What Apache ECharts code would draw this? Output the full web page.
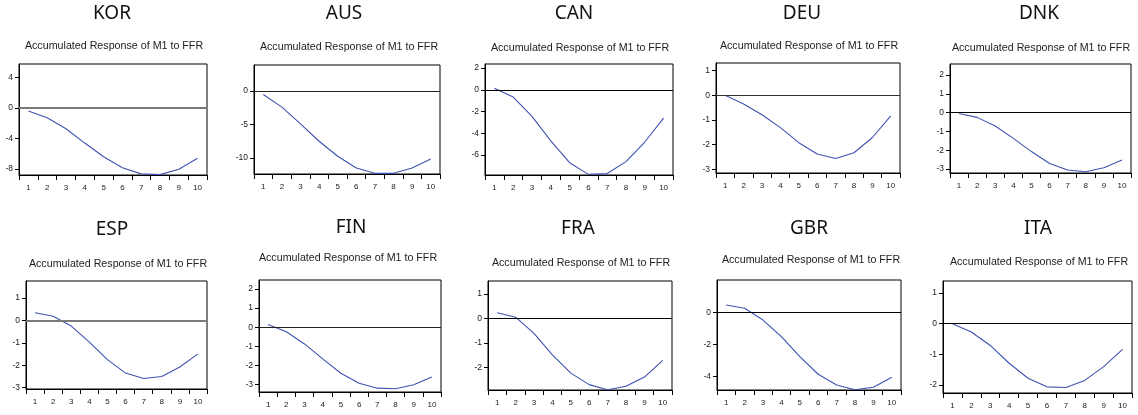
<!DOCTYPE html>
<html>
<head>
<meta charset="utf-8">
<script src="https://cdn.jsdelivr.net/npm/echarts@6/dist/echarts.min.js"></script>
<style>
  html, body { margin: 0; padding: 0; background: #fff; }
  #chart { width: 1138px; height: 415px; }
</style>
</head>
<body>
<div id="chart"></div>
<script>
// Horizon (periods after the shock)
const periods = ['1', '2', '3', '4', '5', '6', '7', '8', '9', '10'];
const countries = ['KOR', 'AUS', 'CAN', 'DEU', 'DNK', 'ESP', 'FIN', 'FRA', 'GBR', 'ITA'];
const subtitle = 'Accumulated Response of M1 to FFR';

// Accumulated responses of M1 to an FFR shock, by country
const kor = [-0.39, -1.27, -2.72, -4.6, -6.4, -7.85, -8.65, -8.75, -8.05, -6.6];
const aus = [-0.5, -2.4, -4.9, -7.5, -9.75, -11.5, -12.3, -12.3, -11.5, -10.15];
const can = [0.15, -0.67, -2.44, -4.7, -6.7, -7.77, -7.7, -6.6, -4.8, -2.6];
const deu = [0.0, -0.35, -0.79, -1.31, -1.92, -2.38, -2.56, -2.33, -1.71, -0.83];
const dnk = [-0.04, -0.25, -0.71, -1.37, -2.07, -2.7, -3.05, -3.14, -2.93, -2.52];
const esp = [0.34, 0.19, -0.25, -0.97, -1.75, -2.35, -2.59, -2.5, -2.08, -1.49];
const fin = [0.14, -0.23, -0.87, -1.65, -2.4, -2.92, -3.18, -3.21, -3.0, -2.6];
const fra = [0.23, 0.05, -0.61, -1.49, -2.24, -2.71, -2.92, -2.78, -2.4, -1.72];
const gbr = [0.46, 0.25, -0.48, -1.51, -2.76, -3.85, -4.52, -4.81, -4.66, -4.04];
const ita = [0.0, -0.27, -0.71, -1.29, -1.78, -2.06, -2.08, -1.85, -1.4, -0.84];

// Value-axis ticks and bounds for each panel
const yTicks = [
  [-8, -4, 0, 4],
  [-10, -5, 0],
  [-6, -4, -2, 0, 2],
  [-3, -2, -1, 0, 1],
  [-3, -2, -1, 0, 1, 2],
  [-3, -2, -1, 0, 1],
  [-3, -2, -1, 0, 1, 2],
  [-2, -1, 0, 1],
  [-4, -2, 0],
  [-2, -1, 0, 1]
];
const yMin = [-8.8, -12.4, -7.83, -3.15, -3.21, -3.06, -3.38, -2.93, -4.83, -2.26];
const yMax = [5.8, 3.9, 2.37, 1.31, 2.59, 1.76, 2.47, 1.53, 2.01, 1.39];

const responses = [kor, aus, can, deu, dnk, esp, fin, fra, gbr, ita];

// Panel layout: plot box [left, top, width, height], title centre, subtitle centre
const layout = [
  { box: [19, 64, 188, 111],  title: [112, 14],  sub: [114, 46] },
  { box: [254, 65, 186, 109], title: [344, 14],  sub: [349, 47] },
  { box: [485, 64, 188, 111], title: [574, 14],  sub: [580, 48] },
  { box: [716, 63, 184, 110], title: [802, 14],  sub: [809, 46] },
  { box: [950, 64, 181, 109], title: [1039, 14], sub: [1041, 48] },
  { box: [26, 281, 181, 108], title: [112, 230], sub: [118, 264] },
  { box: [259, 280, 182, 112], title: [351, 228], sub: [348, 258] },
  { box: [488, 281, 184, 109], title: [578, 229], sub: [581, 263] },
  { box: [717, 280, 184, 110], title: [809, 229], sub: [811, 260] },
  { box: [943, 281, 189, 112], title: [1038, 229], sub: [1039, 262] }
];
const zeroLineStyle = [
  { color: '#7a7a7a', width: 2 },
  { color: '#222', width: 1 },
  { color: '#000', width: 1 },
  { color: '#333', width: 1 },
  { color: '#000', width: 1 },
  { color: '#7a7a7a', width: 2 },
  { color: '#222', width: 1 },
  { color: '#000', width: 1 },
  { color: '#000', width: 1 },
  { color: '#000', width: 1 }
];

const grid = [], xAxis = [], yAxis = [], series = [], graphic = [];

countries.forEach((name, i) => {
  const L = layout[i];
  grid.push({
    left: L.box[0], top: L.box[1], width: L.box[2], height: L.box[3],
    show: true, borderColor: '#000', borderWidth: 1, backgroundColor: '#fff'
  });
  xAxis.push({
    type: 'category', gridIndex: i, data: periods, boundaryGap: true, position: 'bottom',
    axisLine: { show: true, onZero: false, lineStyle: { color: '#000', width: 1 } },
    axisTick: { show: true, interval: 0, length: 5, lineStyle: { color: '#000' } },
    axisLabel: { interval: 0, fontSize: 8, color: '#222', margin: 9, fontFamily: 'Liberation Sans' },
    splitLine: { show: false }
  });
  yAxis.push({
    type: 'value', gridIndex: i, min: yMin[i], max: yMax[i], position: 'left',
    axisLine: { show: true, onZero: false, lineStyle: { color: '#000', width: 1 } },
    axisTick: { show: true, length: 4, customValues: yTicks[i], lineStyle: { color: '#000' } },
    axisLabel: { customValues: yTicks[i], fontSize: 8.5, color: '#222', margin: 6, fontFamily: 'Liberation Sans' },
    splitLine: { show: false }
  });
  series.push({
    type: 'line', xAxisIndex: i, yAxisIndex: i, data: responses[i],
    showSymbol: false, symbol: 'none', animation: false, silent: true,
    lineStyle: { color: '#3f52b0', width: 1.1 },
    markLine: {
      silent: true, animation: false, symbol: ['none', 'none'],
      label: { show: false },
      lineStyle: { type: 'solid', color: zeroLineStyle[i].color, width: zeroLineStyle[i].width },
      data: [{ yAxis: 0 }]
    },
    z: 3
  });
  graphic.push({
    type: 'text', x: L.title[0], y: L.title[1], silent: true,
    style: { text: name, fill: '#111', font: '19px "Noto Sans"', textAlign: 'center', textVerticalAlign: 'middle' }
  });
  graphic.push({
    type: 'text', x: L.sub[0], y: L.sub[1], silent: true,
    style: { text: subtitle, fill: '#222', font: '10.7px "Liberation Sans"', textAlign: 'center', textVerticalAlign: 'middle' }
  });
});

const chart = echarts.init(document.getElementById('chart'), null, { renderer: 'canvas' });
chart.setOption({
  animation: false,
  backgroundColor: '#fff',
  grid, xAxis, yAxis, series, graphic
});
</script>
</body>
</html>
